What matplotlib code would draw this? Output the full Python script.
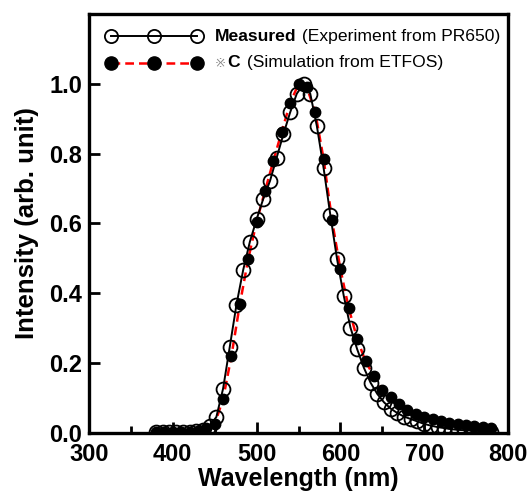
import numpy as np
import matplotlib
matplotlib.use("Agg")
import matplotlib.pyplot as plt
from matplotlib.ticker import MultipleLocator
from matplotlib.offsetbox import DrawingArea, TextArea, HPacker, VPacker, AnchoredOffsetbox
from matplotlib.lines import Line2D

plt.rcParams['font.family'] = ['Liberation Sans', 'DejaVu Sans']

# Measured (PR650), 8 nm steps
meas_wl = [380, 388, 396, 404, 412, 420, 428, 436, 444, 452, 460, 468, 476, 484,
           492, 500, 508, 516, 524, 532, 540, 548, 556, 564, 572, 580, 588, 596,
           604, 612, 620, 628, 636, 644, 652, 660, 668, 676, 684, 692, 700, 708,
           716, 724, 732, 740, 748, 756, 764, 772, 780]
meas_int = [0.003, 0.002, 0.003, 0.002, 0.003, 0.004, 0.006, 0.010, 0.020, 0.046,
            0.127, 0.247, 0.368, 0.467, 0.548, 0.612, 0.671, 0.722, 0.789, 0.856,
            0.918, 0.972, 0.999, 0.972, 0.878, 0.758, 0.624, 0.498, 0.393, 0.302,
            0.240, 0.187, 0.144, 0.112, 0.088, 0.070, 0.057, 0.047, 0.040, 0.033,
            0.026, 0.021, 0.017, 0.014, 0.011, 0.009, 0.008, 0.007, 0.006, 0.004,
            0.002]

# Simulation (ETFOS), 10 nm steps
sim_wl = [380, 390, 400, 410, 420, 430, 440, 450, 460, 470, 480, 490, 500, 510,
          520, 530, 540, 550, 560, 570, 580, 590, 600, 610, 620, 630, 640, 650,
          660, 670, 680, 690, 700, 710, 720, 730, 740, 750, 760, 770, 780]
sim_int = [0.002, 0.002, 0.002, 0.003, 0.004, 0.007, 0.013, 0.026, 0.097, 0.221,
           0.369, 0.498, 0.605, 0.693, 0.779, 0.863, 0.945, 0.999, 0.990, 0.918,
           0.784, 0.609, 0.469, 0.357, 0.270, 0.205, 0.163, 0.124, 0.103, 0.084,
           0.065, 0.054, 0.045, 0.039, 0.034, 0.030, 0.027, 0.024, 0.021, 0.018,
           0.015]

fig = plt.figure(figsize=(5.30, 4.94), dpi=100)
ax = fig.add_axes([89/530, 1-433/494, (508-89)/530, (433-14)/494])

ax.plot(sim_wl, sim_int, color='red', lw=1.8, ls=(0, (3.5, 2)), marker='o',
        ms=7.5, mfc='black', mec='black', zorder=3)
ax.plot(meas_wl, meas_int, color='black', lw=1.4, marker='o', ms=10,
        mfc='none', mec='black', mew=1.3, zorder=4)

ax.set_xlim(300, 800)
ax.set_ylim(0, 1.2)
ax.xaxis.set_major_locator(MultipleLocator(100))
ax.xaxis.set_minor_locator(MultipleLocator(50))
ax.set_yticks([0.0, 0.2, 0.4, 0.6, 0.8, 1.0])
ax.set_yticklabels(['0.0', '0.2', '0.4', '0.6', '0.8', '1.0'])
ax.tick_params(axis='both', which='both', direction='in', top=False, right=False,
               width=2.0, labelsize=17)
ax.tick_params(axis='x', which='both', pad=7)
ax.tick_params(axis='y', which='both', pad=5)
ax.tick_params(axis='both', which='major', length=8)
ax.tick_params(axis='both', which='minor', length=5)
for lab in ax.get_xticklabels() + ax.get_yticklabels():
    lab.set_fontweight('bold')
for s in ax.spines.values():
    s.set_linewidth(2.4)

ax.set_xlabel('Wavelength (nm)', fontsize=18, fontweight='bold', labelpad=1)
ax.set_ylabel('Intensity (arb. unit)', fontsize=18.5, fontweight='bold', labelpad=7)

# custom legend with mixed-weight text
def make_handle(kind):
    w, h = 72, 12
    da = DrawingArea(w, h, 0, 0)
    xs = [5, w / 2, w - 5]
    ys = [h / 2] * 3
    if kind == 'meas':
        ln = Line2D(xs, ys, color='black', lw=1.4, marker='o', ms=9.5,
                    mfc='none', mec='black', mew=1.3)
    else:
        ln = Line2D(xs, ys, color='red', lw=1.8, ls=(0, (3.5, 2)), marker='o',
                    ms=9.5, mfc='black', mec='black')
    da.add_artist(ln)
    return da

fs = 12.6
row1_txt = HPacker(children=[
    TextArea('Measured', textprops=dict(fontsize=fs, fontweight='bold')),
    TextArea(' (Experiment from PR650)', textprops=dict(fontsize=fs)),
], align='baseline', pad=0, sep=0)
row2_txt = HPacker(children=[
    TextArea('\u203b', textprops=dict(fontsize=fs - 3, color='#888888')),
    TextArea('C', textprops=dict(fontsize=fs, fontweight='bold')),
    TextArea(' (Simulation from ETFOS)', textprops=dict(fontsize=fs)),
], align='baseline', pad=0, sep=1)
row1 = HPacker(children=[make_handle('meas'), row1_txt], align='center', pad=0, sep=8)
row2 = HPacker(children=[make_handle('sim'), row2_txt], align='center', pad=0, sep=8)
box = VPacker(children=[row1, row2], align='left', pad=0, sep=7)
anch = AnchoredOffsetbox(loc='upper left', child=box, frameon=False,
                         bbox_to_anchor=(104/530, 1-28/494),
                         bbox_transform=fig.transFigure, borderpad=0, pad=0)
ax.add_artist(anch)

fig.savefig('out.png', dpi=100)
